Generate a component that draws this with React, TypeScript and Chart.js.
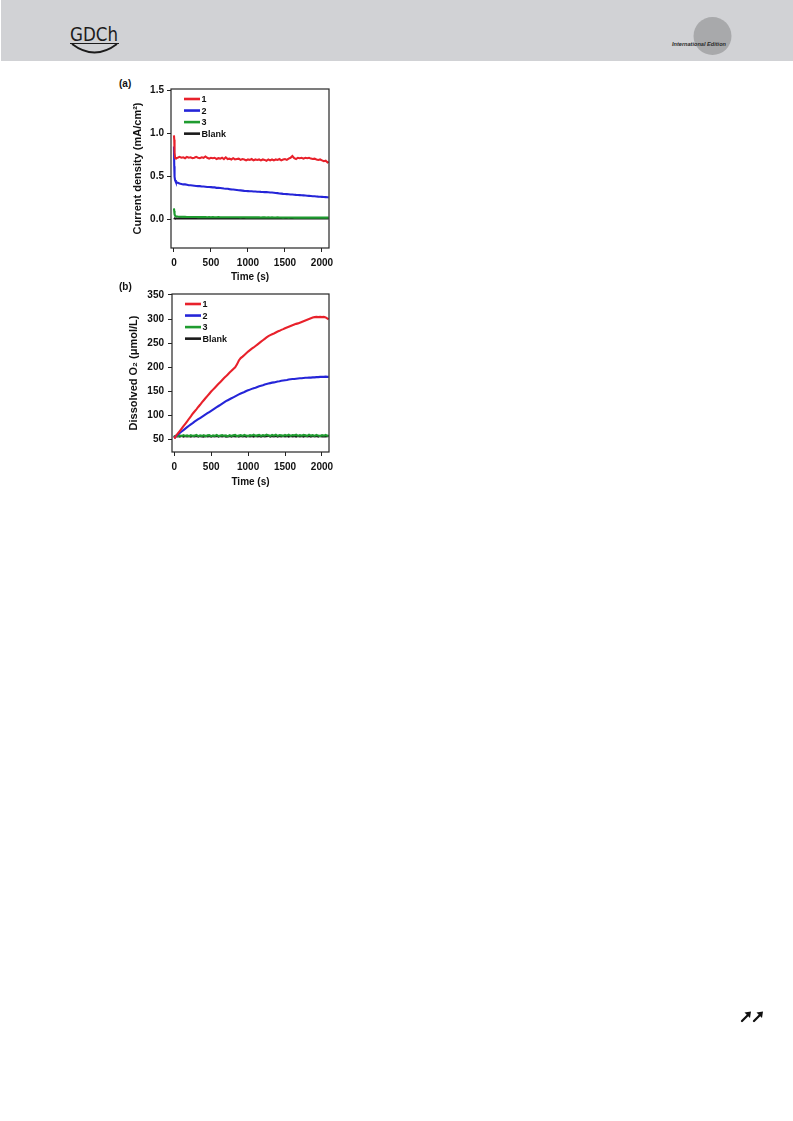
import React, { useEffect, useRef } from "react";
import { Chart, registerables } from "chart.js";

Chart.register(...registerables);

const FONT = "'Liberation Sans', Arial, sans-serif";

// Sampling times (s) shared by every trace
const TIME_S = [
  0, 4, 8, 15,
  25, 50, 75, 100, 125, 150, 175, 200, 225, 250,
  275, 300, 325, 350, 375, 400, 425, 450, 475, 500,
  525, 550, 575, 600, 625, 650, 675, 700, 725, 750,
  775, 800, 825, 850, 875, 900, 925, 950, 975, 1000,
  1025, 1050, 1075, 1100, 1125, 1150, 1175, 1200, 1225, 1250,
  1275, 1300, 1325, 1350, 1375, 1400, 1425, 1450, 1475, 1500,
  1525, 1550, 1575, 1600, 1625, 1650, 1675, 1700, 1725, 1750,
  1775, 1800, 1825, 1850, 1875, 1900, 1925, 1950, 1975, 2000,
  2025, 2050, 2075, 2090,
];

const SERIES_LABELS = ["1", "2", "3", "Blank"];
const SERIES_COLORS = ["#e8212b", "#2525d8", "#1f9c30", "#1a1a1a"];

// (a) current density, mA/cm2
const CURRENT_1 = [
  0.98, 0.93, 0.78, 0.72,
  0.715, 0.72, 0.73, 0.72, 0.725, 0.715, 0.73, 0.72, 0.725, 0.715,
  0.72, 0.73, 0.72, 0.715, 0.725, 0.72, 0.735, 0.72, 0.71, 0.72,
  0.715, 0.72, 0.705, 0.715, 0.71, 0.72, 0.705, 0.725, 0.705, 0.71,
  0.7, 0.715, 0.7, 0.705, 0.71, 0.695, 0.705, 0.7, 0.69, 0.7,
  0.695, 0.705, 0.69, 0.7, 0.695, 0.7, 0.69, 0.7, 0.695, 0.685,
  0.7, 0.69, 0.7, 0.69, 0.7, 0.695, 0.705, 0.69, 0.7, 0.705,
  0.695, 0.71, 0.72, 0.74, 0.715, 0.705, 0.72, 0.715, 0.72, 0.71,
  0.72, 0.715, 0.72, 0.71, 0.705, 0.71, 0.7, 0.695, 0.7, 0.69,
  0.68, 0.685, 0.665, 0.675,
];
const CURRENT_2 = [
  0.85, 0.62, 0.5, 0.46,
  0.44, 0.43, 0.42, 0.415, 0.41, 0.41, 0.405, 0.4, 0.4, 0.398,
  0.395, 0.392, 0.39, 0.39, 0.385, 0.385, 0.383, 0.38, 0.38, 0.378,
  0.375, 0.375, 0.37, 0.37, 0.368, 0.365, 0.362, 0.36, 0.36, 0.355,
  0.352, 0.35, 0.348, 0.345, 0.342, 0.34, 0.338, 0.335, 0.333, 0.332,
  0.33, 0.33, 0.328, 0.327, 0.325, 0.325, 0.323, 0.322, 0.32, 0.32,
  0.318, 0.316, 0.315, 0.313, 0.31, 0.308, 0.305, 0.303, 0.3, 0.298,
  0.297, 0.295, 0.293, 0.292, 0.29, 0.288, 0.287, 0.285, 0.283, 0.282,
  0.28, 0.278, 0.277, 0.275, 0.273, 0.272, 0.27, 0.268, 0.267, 0.265,
  0.263, 0.262, 0.26, 0.258,
];
const CURRENT_3 = [
  0.13, 0.1, 0.065, 0.045,
  0.04, 0.036, 0.034, 0.033, 0.032, 0.032, 0.031, 0.031, 0.03, 0.031,
  0.03, 0.03, 0.029, 0.03, 0.029, 0.029, 0.03, 0.028, 0.029, 0.028,
  0.029, 0.028, 0.028, 0.029, 0.027, 0.028, 0.028, 0.027, 0.028, 0.027,
  0.028, 0.027, 0.027, 0.028, 0.027, 0.026, 0.027, 0.027, 0.026, 0.027,
  0.026, 0.027, 0.026, 0.026, 0.027, 0.026, 0.025, 0.026, 0.026, 0.025,
  0.026, 0.025, 0.026, 0.025, 0.025, 0.026, 0.025, 0.025, 0.024, 0.025,
  0.025, 0.024, 0.025, 0.025, 0.024, 0.025, 0.024, 0.024, 0.025, 0.024,
  0.024, 0.025, 0.024, 0.024, 0.023, 0.024, 0.024, 0.023, 0.024, 0.024,
  0.023, 0.024, 0.023, 0.023,
];
const CURRENT_BLANK = [
  0.02, 0.018, 0.016, 0.015,
  0.015, 0.014, 0.015, 0.015, 0.014, 0.015, 0.014, 0.015, 0.014, 0.015,
  0.014, 0.015, 0.014, 0.014, 0.015, 0.014, 0.014, 0.015, 0.014, 0.014,
  0.015, 0.014, 0.014, 0.013, 0.014, 0.014, 0.015, 0.014, 0.013, 0.014,
  0.014, 0.013, 0.014, 0.014, 0.013, 0.014, 0.013, 0.014, 0.014, 0.013,
  0.014, 0.013, 0.014, 0.013, 0.013, 0.014, 0.013, 0.014, 0.013, 0.013,
  0.014, 0.013, 0.013, 0.014, 0.013, 0.013, 0.014, 0.013, 0.013, 0.014,
  0.013, 0.013, 0.014, 0.013, 0.013, 0.014, 0.013, 0.013, 0.014, 0.013,
  0.013, 0.014, 0.013, 0.013, 0.014, 0.013, 0.013, 0.014, 0.013, 0.013,
  0.014, 0.013, 0.013, 0.014,
];

// (b) dissolved O2, umol/L
const OXYGEN_1 = [
  53, 53.5, 54, 55,
  57.5, 62.5, 67.5, 72.5, 77.5, 82.5, 87.5, 93, 98, 103.5,
  108, 112.5, 117.5, 122, 127, 131.5, 136, 140.5, 145, 149.5,
  153.5, 157.5, 161.5, 165.5, 169.5, 173.5, 177.5, 181, 185, 189,
  192.5, 196.5, 200, 206, 214, 219, 222, 225.5, 229, 232.5,
  235.5, 238.5, 241, 244, 247, 250, 253, 256, 259, 262,
  264.5, 266.5, 268.5, 270, 272, 274, 275.5, 277.5, 279, 281,
  282.5, 284, 285.5, 287, 288.5, 290, 291, 292.5, 294, 295.5,
  297, 298.5, 300, 301.5, 303, 304, 304.5, 304, 304.5, 304,
  304.5, 303.5, 301, 299.5,
];
const OXYGEN_2 = [
  54, 54.5, 55, 56,
  57, 60.5, 63.5, 66.5, 69.5, 72.5, 75.5, 78.5, 81.5, 84,
  87, 89.5, 92, 94.5, 97, 99.5, 102, 104.5, 107, 109.5,
  112, 114.5, 117, 119.5, 122, 124.5, 127, 129.5, 131.5, 133.5,
  135.5, 137.5, 139.5, 141.5, 143.5, 145.5, 147, 148.5, 150.5, 152,
  153.5, 155, 156.5, 157.5, 159, 160.5, 161.5, 162.5, 164, 165,
  166, 167, 168, 168.5, 169.5, 170.5, 171, 172, 172.5, 173,
  173.5, 174.5, 175, 175.5, 175.5, 176, 176.5, 177, 177, 177.5,
  178, 178, 178.5, 178.5, 179, 179, 179.5, 179.5, 180, 180,
  180, 180.5, 180, 180,
];
const OXYGEN_3 = [
  55, 55.5, 56.5, 57,
  58, 56.5, 58.5, 57, 59, 57.5, 58.5, 56.5, 59, 57.5,
  58, 59.5, 57, 58.5, 57.5, 59, 56.5, 58.5, 59, 57,
  58.5, 57.5, 59.5, 57, 58, 59, 57.5, 58.5, 56.5, 59,
  57.5, 58.5, 59.5, 57, 58, 59, 57.5, 59.5, 58, 57,
  59, 58, 60, 57.5, 58.5, 59.5, 57.5, 59, 58, 60,
  58.5, 57.5, 59.5, 58, 60, 57.5, 59, 58.5, 57.5, 59.5,
  58, 60, 57.5, 59, 58.5, 60, 57.5, 59, 58, 59.5,
  58.5, 57.5, 60, 58, 59, 57.5, 59.5, 58, 57, 59,
  58, 59.5, 57.5, 59,
];
const OXYGEN_BLANK = [
  54.5, 55, 55.5, 56,
  56.5, 57, 56, 57.5, 56, 57, 56.5, 57.5, 56, 57,
  56.5, 57.5, 56, 57, 56.5, 56, 57.5, 56.5, 57, 56,
  57, 56.5, 57.5, 56, 57, 56.5, 57.5, 56, 56.5, 57,
  56, 57.5, 56.5, 57, 56, 57.5, 56.5, 57, 56, 57.5,
  56.5, 57, 56, 57.5, 56.5, 57, 56, 57.5, 56.5, 57,
  57.5, 56, 57, 56.5, 57.5, 56, 57, 56.5, 57.5, 56.5,
  57, 56, 57.5, 56.5, 57, 56, 57.5, 56.5, 57, 56,
  57.5, 56.5, 57, 56, 57.5, 56.5, 57, 56, 57.5, 56.5,
  57, 56.5, 57, 56.5,
];

const TIME_TICKS = [0, 500, 1000, 1500, 2000];
const CURRENT_TICKS = [0, 0.5, 1.0, 1.5];
const OXYGEN_TICKS = [50, 100, 150, 200, 250, 300, 350];

type PanelSpec = {
  values: number[][];
  xMin: number;
  xMax: number;
  yMin: number;
  yMax: number;
  yTicks: number[];
  yFormat: (v: number) => string;
  yTitle: string;
  width: number;
  height: number;
  area: { left: number; top: number; right: number; bottom: number };
  yTitleOffset: number;
  xTitleOffset: number;
  yTickPad: number;
};

// Box drawn around the plotting area
const framePlugin = {
  id: "frame",
  afterDatasetsDraw(chart: any) {
    const { ctx, chartArea: a } = chart;
    ctx.save();
    ctx.strokeStyle = "#262626";
    ctx.lineWidth = 1.2;
    ctx.strokeRect(a.left, a.top, a.right - a.left, a.bottom - a.top);
    ctx.restore();
  },
};

// Inset legend in the upper-left corner of the plotting area
const insetLegendPlugin = {
  id: "insetLegend",
  afterDraw(chart: any) {
    const { ctx, chartArea: a } = chart;
    ctx.save();
    ctx.font = `bold 9px ${FONT}`;
    ctx.textBaseline = "middle";
    ctx.textAlign = "left";
    chart.data.datasets.forEach((ds: any, i: number) => {
      const y = a.top + 10 + i * 11.55;
      ctx.strokeStyle = ds.borderColor;
      ctx.lineWidth = 2.6;
      ctx.beginPath();
      ctx.moveTo(a.left + 13, y);
      ctx.lineTo(a.left + 29, y);
      ctx.stroke();
      ctx.fillStyle = "#111";
      ctx.fillText(ds.label, a.left + 30.5, y + 0.5);
    });
    ctx.restore();
  },
};

function buildConfig(p: PanelSpec): any {
  const tickFont = { family: FONT, size: 10, weight: "bold" as const };
  return {
    type: "line",
    data: {
      datasets: p.values.map((vals, i) => ({
        label: SERIES_LABELS[i],
        data: TIME_S.map((t, j) => ({ x: t, y: vals[j] })),
        borderColor: SERIES_COLORS[i],
        backgroundColor: SERIES_COLORS[i],
        borderWidth: 2.1,
        pointRadius: 0,
        tension: 0,
        fill: false,
      })),
    },
    options: {
      animation: false,
      responsive: false,
      maintainAspectRatio: false,
      events: [],
      layout: {
        padding: {
          left: 0,
          top: p.area.top,
          right: p.width - p.area.right,
          bottom: 0,
        },
      },
      plugins: {
        legend: { display: false },
        tooltip: { enabled: false },
      },
      scales: {
        x: {
          type: "linear",
          min: p.xMin,
          max: p.xMax,
          afterBuildTicks: (s: any) => {
            s.ticks = TIME_TICKS.map((v) => ({ value: v }));
          },
          afterFit: (s: any) => {
            s.height = p.height - p.area.bottom;
          },
          grid: {
            display: true,
            drawOnChartArea: false,
            drawTicks: true,
            tickLength: 4,
            color: "#222",
            lineWidth: 1,
          },
          border: { display: false },
          ticks: {
            font: tickFont,
            color: "#111",
            padding: 5,
            maxRotation: 0,
            autoSkip: false,
            callback: (v: any) => String(v),
          },
          title: {
            display: true,
            text: "Time (s)",
            font: tickFont,
            color: "#111",
            padding: { top: 0, bottom: p.xTitleOffset },
          },
        },
        y: {
          type: "linear",
          min: p.yMin,
          max: p.yMax,
          afterBuildTicks: (s: any) => {
            s.ticks = p.yTicks.map((v) => ({ value: v }));
          },
          afterFit: (s: any) => {
            s.width = p.area.left;
          },
          grid: {
            display: true,
            drawOnChartArea: false,
            drawTicks: true,
            tickLength: 4,
            color: "#222",
            lineWidth: 1,
          },
          border: { display: false },
          ticks: {
            font: tickFont,
            color: "#111",
            padding: p.yTickPad,
            autoSkip: false,
            callback: (v: any) => p.yFormat(Number(v)),
          },
          title: {
            display: true,
            text: p.yTitle,
            font: { family: FONT, size: 11, weight: "bold" },
            color: "#111",
            padding: { top: p.yTitleOffset, bottom: 0 },
          },
        },
      },
    },
    plugins: [framePlugin, insetLegendPlugin],
  };
}

function Panel({ spec, left, top }: { spec: PanelSpec; left: number; top: number }) {
  const ref = useRef<HTMLCanvasElement | null>(null);
  useEffect(() => {
    if (!ref.current) return;
    const chart = new Chart(ref.current, buildConfig(spec));
    return () => chart.destroy();
  }, []);
  return (
    <canvas
      ref={ref}
      width={spec.width}
      height={spec.height}
      style={{ position: "absolute", left, top, width: spec.width, height: spec.height }}
    />
  );
}

const currentPanel: PanelSpec = {
  values: [CURRENT_1, CURRENT_2, CURRENT_3, CURRENT_BLANK],
  xMin: -40,
  xMax: 2095,
  yMin: -0.33,
  yMax: 1.52,
  yTicks: CURRENT_TICKS,
  yFormat: (v) => v.toFixed(1),
  yTitle: "Current density (mA/cm²)",
  width: 230,
  height: 215,
  area: { left: 61, top: 13, right: 219, bottom: 172 },
  yTitleOffset: 21,
  xTitleOffset: 8,
  yTickPad: 3,
};

const oxygenPanel: PanelSpec = {
  values: [OXYGEN_1, OXYGEN_2, OXYGEN_3, OXYGEN_BLANK],
  xMin: -30,
  xMax: 2095,
  yMin: 24,
  yMax: 352,
  yTicks: OXYGEN_TICKS,
  yFormat: (v) => String(v),
  yTitle: "Dissolved O₂ (μmol/L)",
  width: 230,
  height: 215,
  area: { left: 62, top: 14, right: 219, bottom: 172 },
  yTitleOffset: 17,
  xTitleOffset: 7,
  yTickPad: 4,
};

const panelLabel: React.CSSProperties = {
  position: "absolute",
  fontFamily: FONT,
  fontWeight: "bold",
  fontSize: 10,
  lineHeight: "12px",
  color: "#111",
};

function Arrow({ x }: { x: number }) {
  return (
    <g transform={`translate(${x},0)`}>
      <line x1={2} y1={12} x2={8} y2={6} stroke="#111" strokeWidth={2.2} strokeLinecap="round" />
      <polygon points="11,2.5 4.5,3.5 10,9" fill="#111" />
    </g>
  );
}

export default function App() {
  return (
    <div
      style={{
        position: "absolute",
        left: 0,
        top: 0,
        width: 793,
        height: 1121,
        background: "#fff",
        overflow: "hidden",
      }}
    >
      <svg width={793} height={62} style={{ position: "absolute", left: 0, top: 0 }}>
        <rect x={1} y={0} width={792} height={61} fill="#d1d2d5" />
        <text
          x={70}
          y={41}
          fontFamily="'DejaVu Sans', sans-serif"
          fontSize={19}
          textLength={48}
          lengthAdjust="spacingAndGlyphs"
          fill="#1c1c1c"
        >
          GDCh
        </text>
        <line x1={70} y1={43.5} x2={119} y2={43.5} stroke="#1c1c1c" strokeWidth={1} />
        <path d="M72 44 Q94.5 61 117 44" fill="none" stroke="#1c1c1c" strokeWidth={1.8} />
        <circle cx={712.5} cy={36} r={19} fill="#a8a9ab" />
        <text
          x={672}
          y={46}
          fontFamily={FONT}
          fontSize={5.5}
          fontStyle="italic"
          fontWeight="bold"
          textLength={54}
          lengthAdjust="spacingAndGlyphs"
          fill="#2a2a2a"
        >
          International Edition
        </text>
      </svg>

      <div style={{ ...panelLabel, left: 119, top: 78 }}>(a)</div>
      <Panel spec={currentPanel} left={110} top={76} />

      <div style={{ ...panelLabel, left: 119, top: 281 }}>(b)</div>
      <Panel spec={oxygenPanel} left={110} top={280} />

      <svg width={28} height={14} style={{ position: "absolute", left: 739, top: 1009 }}>
        <Arrow x={1} />
        <Arrow x={13} />
      </svg>
    </div>
  );
}
